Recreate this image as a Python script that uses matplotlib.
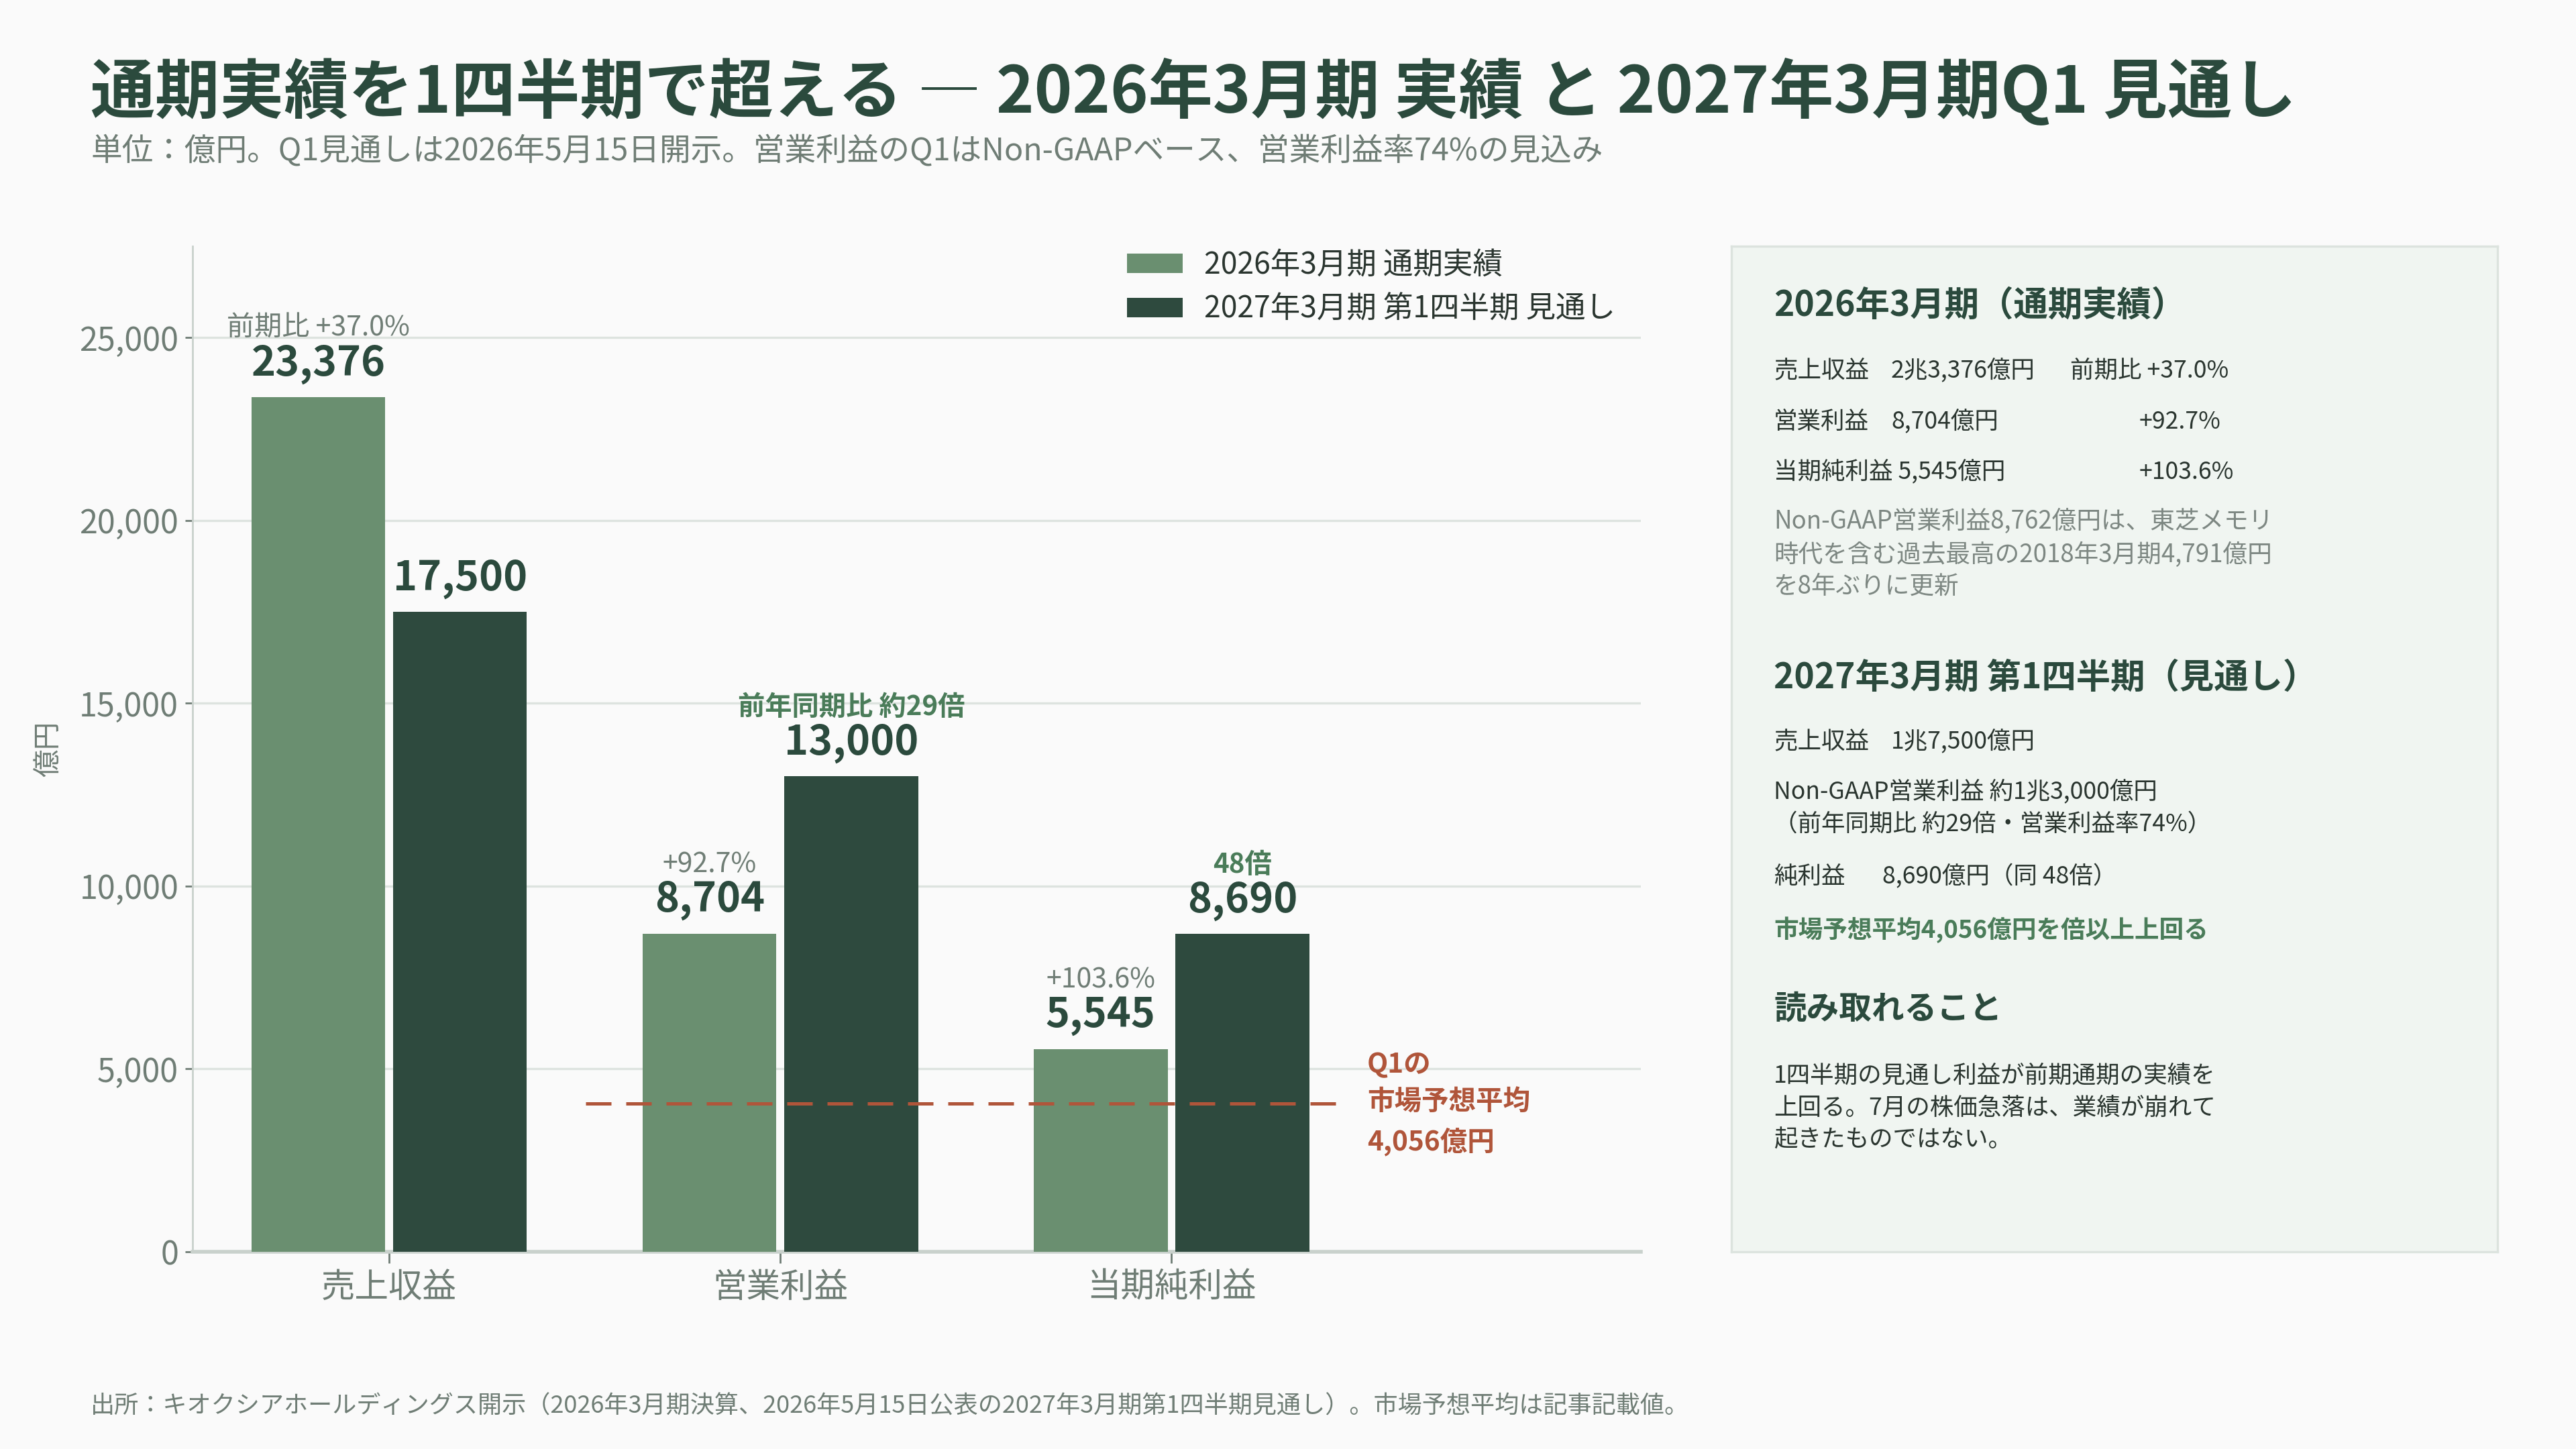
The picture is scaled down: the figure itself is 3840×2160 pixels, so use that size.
import matplotlib
matplotlib.use("Agg")
import matplotlib.pyplot as plt
from matplotlib.ticker import FuncFormatter
import numpy as np

plt.rcParams['font.family'] = ['Noto Sans CJK JP', 'DejaVu Sans']

# ---------------- data ----------------
categories = ['売上収益', '営業利益', '当期純利益']
series_names = ['2026年3月期 通期実績', '2027年3月期 第1四半期 見通し']
fy2026_actual = [23376, 8704, 5545]
q1_2027_forecast = [17500, 13000, 8690]
fy2026_notes = ['前期比 +37.0%', '+92.7%', '+103.6%']
q1_2027_notes = ['', '前年同期比 約29倍', '48倍']
market_avg_q1 = 4056
market_avg_label = 'Q1の\n市場予想平均\n4,056億円'
y_ticks = [0, 5000, 10000, 15000, 20000, 25000]

title = '通期実績を1四半期で超える ― 2026年3月期 実績 と 2027年3月期Q1 見通し'
subtitle = '単位：億円。Q1見通しは2026年5月15日開示。営業利益のQ1はNon-GAAPベース、営業利益率74%の見込み'
source = '出所：キオクシアホールディングス開示（2026年3月期決算、2026年5月15日公表の2027年3月期第1四半期見通し）。市場予想平均は記事記載値。'

# ---------------- style ----------------
BG = '#FAFAFA'
LIGHT = '#6A8F70'
DARK = '#2E4A3E'
TITLE_C = '#2B4A3D'
GRAY = '#6F7D75'
GREEN_ACC = '#4A7C59'
RUST = '#B0553A'
GRID = '#DDE3DF'
TEXT_DARK = '#2A352F'

W, H = 3840, 2160
fig = plt.figure(figsize=(19.2, 10.8), dpi=200, facecolor=BG)

def fx(px):
    return px / W

def fy(px):
    return 1 - px / H

# titles
fig.text(fx(135), fy(138), title, fontsize=34.6, fontweight='bold', color=TITLE_C,
         va='center', ha='left')
fig.text(fx(135), fy(226), subtitle, fontsize=16.8, color=GRAY, va='center', ha='left')
fig.text(fx(135), fy(2097), source, fontsize=13, color=GRAY, va='center', ha='left')

# ---------------- main chart ----------------
ax = fig.add_axes([fx(287), fy(1866), fx(2446) - fx(287), fy(367) - fy(1866)])
ax.set_facecolor(BG)
x = np.arange(len(categories))
bw = 0.342
off = 0.181
ax.bar(x - off, fy2026_actual, bw, color=LIGHT, label=series_names[0], zorder=3)
ax.bar(x + off, q1_2027_forecast, bw, color=DARK, label=series_names[1], zorder=3)

ax.set_xlim(-0.503, 3.2)
ax.set_ylim(0, 27500)
ax.set_yticks(y_ticks)
ax.yaxis.set_major_formatter(FuncFormatter(lambda v, p: f'{int(v):,}'))
ax.set_xticks(x)
ax.set_xticklabels(categories, fontsize=18.2, color=GRAY)
ax.tick_params(axis='y', labelsize=17.5, labelcolor=GRAY, color=GRAY, length=4, width=1)
ax.tick_params(axis='x', color=GRAY, length=6, width=1, pad=4)
ax.grid(axis='y', color=GRID, linewidth=1.2, zorder=0)
for s in ['top', 'right']:
    ax.spines[s].set_visible(False)
ax.spines['left'].set_color('#C9D1CC')
ax.spines['left'].set_linewidth(1.0)
ax.spines['bottom'].set_color('#C9D1CC')
ax.spines['bottom'].set_linewidth(2.0)

# value labels
for i in range(len(categories)):
    for xpos, val, note, note_c, note_w, note_s in [
        (x[i] - off, fy2026_actual[i], fy2026_notes[i], GRAY, 'normal', 14.8),
        (x[i] + off, q1_2027_forecast[i], q1_2027_notes[i], GREEN_ACC, 'bold', 14.5),
    ]:
        ax.annotate(f'{val:,}', (xpos, val), xytext=(0, 18), textcoords='offset points',
                    ha='center', va='center', fontsize=22, fontweight='bold', color=TITLE_C,
                    zorder=5)
        if note:
            ax.annotate(note, (xpos, val), xytext=(0, 37), textcoords='offset points',
                        ha='center', va='center', fontsize=note_s,
                        fontweight=note_w, color=note_c, zorder=5)

# market average line
ln = ax.plot([0.502, 2.424], [market_avg_q1, market_avg_q1], color=RUST, linewidth=1.8, zorder=4)[0]
ln.set_dashes((7.6, 4.4))
ax.text(2.5, market_avg_q1, market_avg_label, color=RUST, fontsize=14.6, fontweight='bold',
        ha='left', va='center', linespacing=1.48, zorder=5)

leg = ax.legend(loc='upper left', bbox_to_anchor=(fx(1680), fy(372)),
                bbox_transform=fig.transFigure, frameon=False, fontsize=16,
                handlelength=1.86, handleheight=0.65, handletextpad=0.72,
                labelspacing=0.45, borderpad=0, borderaxespad=0)
for t in leg.get_texts():
    t.set_color(TEXT_DARK)

fig.text(fx(73), fy(1116), '億円', rotation=90, fontsize=15, color=GRAY, ha='center', va='center')

# ---------------- side panel ----------------
pax = fig.add_axes([fx(2581), fy(1866), fx(3723) - fx(2581), fy(367) - fy(1866)])
pax.set_facecolor('#F0F5F1')
pax.set_xticks([])
pax.set_yticks([])
for s in pax.spines.values():
    s.set_color('#DCE3DE')
    s.set_linewidth(1.2)

def ptext(xp, yp, s, size=12.8, color=TEXT_DARK, weight='normal', **kw):
    fig.text(fx(xp), fy(yp), s, fontsize=size, color=color, fontweight=weight,
             ha='left', va='center', **kw)

NOTE_C = '#7D8782'
L = 2644
ptext(L, 455, '2026年3月期（通期実績）', size=18.5, color=TITLE_C, weight='bold')
ptext(L, 553, '売上収益')
ptext(2819, 553, '2兆3,376億円')
ptext(3086, 553, '前期比 +37.0%')
ptext(L, 629, '営業利益')
ptext(2819, 629, '8,704億円')
ptext(3189, 629, '+92.7%')
ptext(L, 704, '当期純利益 5,545億円')
ptext(3189, 704, '+103.6%')
ptext(L, 777, 'Non-GAAP営業利益8,762億円は、東芝メモリ', size=13.2, color=NOTE_C)
ptext(L, 827, '時代を含む過去最高の2018年3月期4,791億円', size=13.2, color=NOTE_C)
ptext(L, 874, 'を8年ぶりに更新', size=13.2, color=NOTE_C)

ptext(L, 1010, '2027年3月期 第1四半期（見通し）', size=18.5, color=TITLE_C, weight='bold')
ptext(L, 1106, '売上収益')
ptext(2819, 1106, '1兆7,500億円')
ptext(L, 1181, 'Non-GAAP営業利益 約1兆3,000億円')
ptext(L, 1229, '（前年同期比 約29倍・営業利益率74%）')
ptext(L, 1307, '純利益')
ptext(2806, 1307, '8,690億円（同 48倍）')
ptext(L, 1386, '市場予想平均4,056億円を倍以上上回る', size=13.2, color=GREEN_ACC, weight='bold')

ptext(L, 1504, '読み取れること', size=17.5, color=TITLE_C, weight='bold')
ptext(L, 1604, '1四半期の見通し利益が前期通期の実績を')
ptext(L, 1652, '上回る。7月の株価急落は、業績が崩れて')
ptext(L, 1700, '起きたものではない。')

fig.savefig('out.png', dpi=200, facecolor=BG)
